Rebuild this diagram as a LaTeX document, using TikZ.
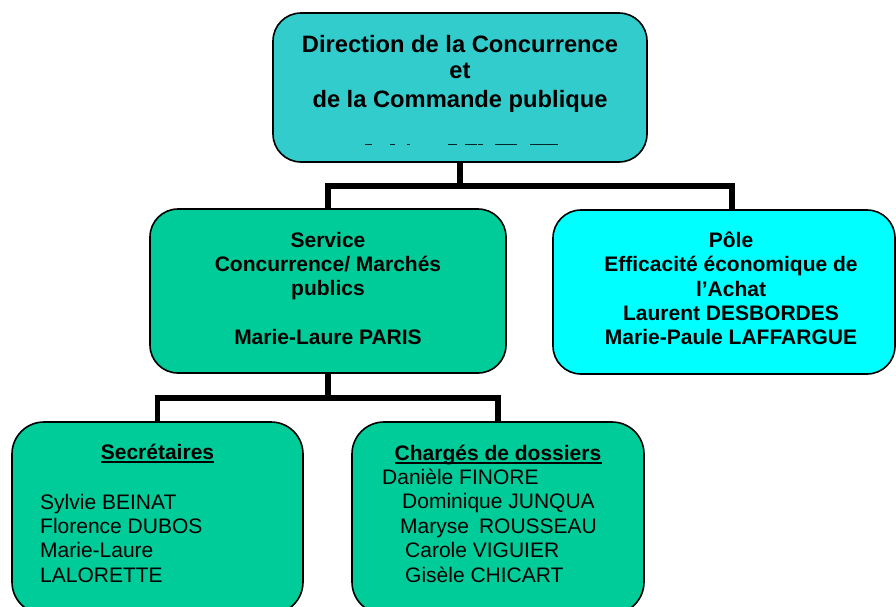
\documentclass[tikz,border=0pt]{standalone}
\usepackage{fontspec}
\setmainfont{Liberation Sans}
\definecolor{topfill}{HTML}{33CCCC}
\definecolor{greenfill}{HTML}{00CC99}
\definecolor{cyanfill}{HTML}{00FFFF}
\tikzset{
  orgbox/.style={draw=black, line width=1.6pt, rectangle, rounded corners=28pt, inner sep=0pt},
  lowbox/.style={orgbox, rounded corners=32pt, fill=greenfill},
  conn/.style={draw=black, line width=5.5pt},
  ttl/.style={anchor=base, inner sep=0pt, font=\fontsize{23.7}{27.5}\selectfont\bfseries},
  btxt/.style={anchor=base, inner sep=0pt, font=\fontsize{21}{24}\selectfont\bfseries},
  ntxt/.style={anchor=base west, inner sep=0pt, font=\fontsize{21}{24}\selectfont},
  frag/.style={draw=black!70!teal, line width=1pt}
}
\begin{document}
\begin{tikzpicture}[x=1pt, y=-1pt]
\path[use as bounding box, clip] (0,0) rectangle (896,606);
\fill[white] (0,0) rectangle (896,606);

% boxes
\node[orgbox, fill=topfill, minimum width=374pt, minimum height=149pt] (top) at (460,87.5) {};
\node[orgbox, fill=greenfill, minimum width=356pt, minimum height=164pt] (serv) at (328,291) {};
\node[orgbox, fill=cyanfill, minimum width=342pt, minimum height=164pt] (pole) at (724,292) {};
\node[lowbox, minimum width=291pt, minimum height=192pt] (secr) at (157.5,518) {};
\node[lowbox, minimum width=292pt, minimum height=192pt] (charg) at (498,518) {};

% connectors
\coordinate (busA) at (460,186);
\coordinate (busB) at (328,398);
\draw[conn] (top.south) -- (busA);
\draw[conn] (serv.north) |- (busA) -| ([xshift=8pt]pole.north);
\draw[conn] (serv.south) -- (busB);
\draw[conn] (secr.north) |- (busB) -| (charg.north);

% top box text
\node[ttl] (t1) at (460,52) {Direction de la Concurrence};
\node[ttl] (t2) at (460,78) {et};
\node[ttl] (t3) at (460,107) {de la Commande publique};
% clipped fragments of a hidden line
\foreach \a/\b [count=\k] in {365/372,390/395,407/410,448/457,465/477,478/483,495/517,530/558}
  \draw[frag] (\a,144.3) -- (\b,144.3);

% service text
\node[btxt] (s1) at (328,247) {Service};
\node[btxt] (s2) at (328,271) {Concurrence/ Marchés};
\node[btxt] (s3) at (328,295) {publics};
\node[btxt] (s4) at (328,344) {Marie-Laure PARIS};

% pole text
\node[btxt] (p1) at (731,247) {Pôle};
\node[btxt] (p2) at (731,271.5) {Efficacité économique de};
\node[btxt] (p3) at (731,296) {l’Achat};
\node[btxt] (p4) at (731,320) {Laurent DESBORDES};
\node[btxt] (p5) at (731,344.5) {Marie-Paule LAFFARGUE};

% secretaires
\node[btxt] (sec) at (157.5,459) {Secrétaires};
\draw[line width=1.6pt] ([yshift=-2.8pt]sec.base west) -- ([yshift=-2.8pt]sec.base east);
\node[ntxt] (n1) at (40,509) {Sylvie BEINAT};
\node[ntxt] (n2) at (40,533) {Florence DUBOS};
\node[ntxt] (n3) at (40,557.5) {Marie-Laure};
\node[ntxt] (n4) at (40,582) {LALORETTE};

% charges de dossiers
\node[btxt] (chg) at (498,460) {Chargés de dossiers};
\draw[line width=1.6pt] ([yshift=-2.8pt]chg.base west) -- ([yshift=-2.8pt]chg.base east);
\node[ntxt] (c1) at (382,484) {Danièle FINORE};
\node[ntxt] (c2) at (402,508) {Dominique JUNQUA};
\node[ntxt] (c3) at (400,533) {Maryse\hspace{10pt}ROUSSEAU};
\node[ntxt] (c4) at (405,557) {Carole VIGUIER};
\node[ntxt] (c5) at (405,582) {Gisèle CHICART};
\end{tikzpicture}
\end{document}
